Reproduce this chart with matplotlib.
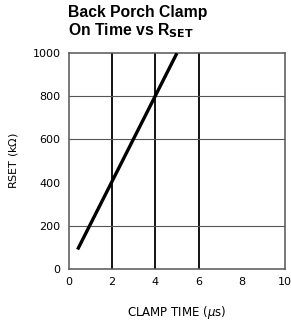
import matplotlib.pyplot as plt

# Curve
clamp_time = [0.4, 5.0]      # us
rset = [90, 1000]            # kOhm

x_ticks = [0, 2, 4, 6, 8, 10]
y_ticks = [0, 200, 400, 600, 800, 1000]
v_grid = [2, 4, 6]
h_grid = [200, 600, 800]

fig = plt.figure(figsize=(2.91, 3.24), dpi=100)
ax = fig.add_axes([0.237, 0.170, 0.742, 0.666])

for xv in v_grid:
    ax.axvline(xv, color="black", lw=1.3, zorder=1)
for yv in h_grid:
    ax.axhline(yv, color="#555555", lw=0.8, zorder=1)

ax.plot(clamp_time, rset, color="black", lw=2.4, solid_capstyle="butt", zorder=3)

ax.set_xlim(0, 10)
ax.set_ylim(0, 1000)
ax.set_xticks(x_ticks)
ax.set_yticks(y_ticks)
ax.tick_params(length=0, labelsize=8, pad=6)
for s in ax.spines.values():
    s.set_linewidth(1.1)
    s.set_color("#555555")

ax.set_xlabel("CLAMP TIME ($\\mu$s)", fontsize=8.5, labelpad=12)
ax.set_ylabel("RSET (k$\\Omega$)", fontsize=8, labelpad=9)

fig.text(0.234, 0.947, "Back Porch Clamp", fontsize=11.3, fontweight="bold",
         family="Liberation Sans", ha="left", va="baseline")
fig.text(0.234, 0.892, "On Time vs R$_{\\mathbf{SET}}$", fontsize=11.3, fontweight="bold",
         family="Liberation Sans", ha="left", va="baseline")

fig.savefig("out.png", dpi=100)
